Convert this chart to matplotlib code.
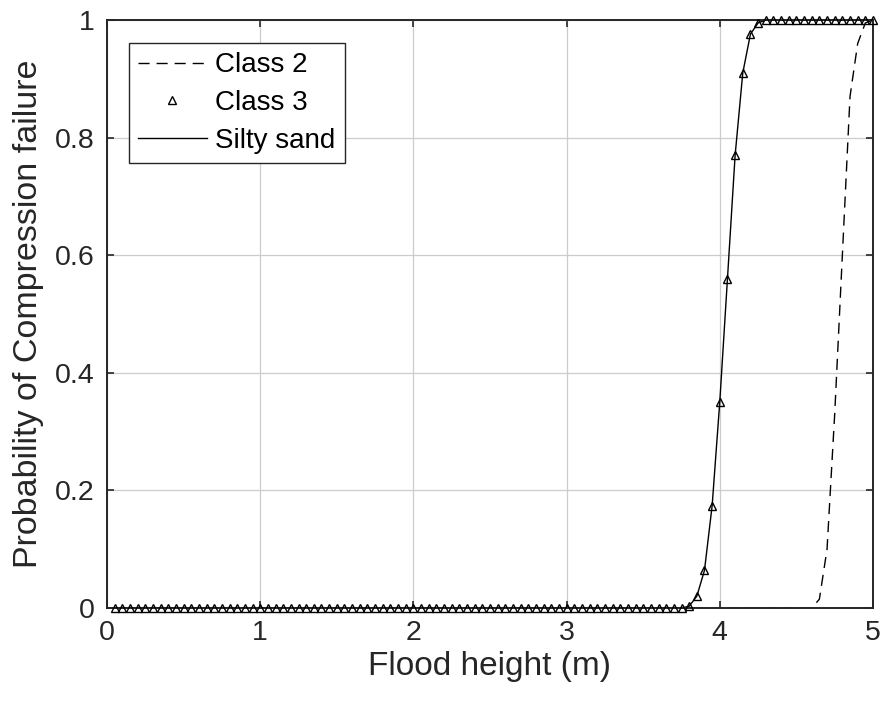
import numpy as np
import matplotlib.pyplot as plt
from matplotlib.ticker import FuncFormatter

# flood height grid (m), 0.05 m steps
flood_height = np.round(np.arange(1, 101) * 0.05, 2)

# Class 2: zero until ~4.6 m, then steep rise
class2_x = [0.05, 4.60, 4.65, 4.70, 4.75, 4.80, 4.85, 4.90, 4.95, 5.00]
class2_p = [0.0, 0.0, 0.015, 0.10, 0.33, 0.60, 0.87, 0.96, 0.995, 1.0]

# Class 3 / silty sand: rise between 3.75 and 4.3 m
ramp_x = [0.05, 3.75, 3.80, 3.85, 3.90, 3.95, 4.00, 4.05, 4.10, 4.15, 4.20, 4.25, 4.30, 5.00]
ramp_p = [0.0, 0.0, 0.003, 0.020, 0.064, 0.174, 0.351, 0.560, 0.770, 0.910, 0.976, 0.995, 1.0, 1.0]

class3_p = np.interp(flood_height, ramp_x, ramp_p)
silty_p = np.interp(flood_height, ramp_x, ramp_p)
class2_p_grid = np.interp(flood_height, class2_x, class2_p)

ink = '#262626'
plt.rcParams['font.family'] = ['Liberation Sans', 'DejaVu Sans']

fig = plt.figure(figsize=(8.84, 7.07), dpi=100)
ax = fig.add_axes([107/884, 1-608/707, (873-107)/884, (608-20)/707])

ax.plot(flood_height, class2_p_grid, '--', color='black', lw=1.0, dashes=(8, 5), label='Class 2')
ax.plot(flood_height, class3_p, linestyle='none', marker='^', ms=5.5, mfc='none', mec='black',
        mew=1.0, color='black', label='Class 3', clip_on=False, zorder=4)
ax.plot(flood_height, silty_p, '-', color='black', lw=1.0, label='Silty sand')

ax.set_xlim(0, 5)
ax.set_ylim(0, 1)
ax.set_xticks([0, 1, 2, 3, 4, 5])
ax.set_yticks([0, 0.2, 0.4, 0.6, 0.8, 1.0])
ax.yaxis.set_major_formatter(FuncFormatter(lambda v, p: '%g' % v))
ax.grid(True, color='#cccccc', lw=0.9)
ax.set_axisbelow(True)
ax.tick_params(direction='in', length=5, width=1.2, top=True, right=True,
               labelsize=20.5, colors=ink, pad=9)
for s in ax.spines.values():
    s.set_color(ink)
    s.set_linewidth(1.4)

ax.set_xlabel('Flood height (m)', fontsize=24, color=ink, labelpad=3)
ax.set_ylabel('Probability of Compression failure', fontsize=24.5, color=ink, labelpad=8)

leg = ax.legend(loc='upper left', bbox_to_anchor=(129/884, 1-43/707), bbox_transform=fig.transFigure,
                borderaxespad=0, fontsize=20, handlelength=2.45, handletextpad=0.3,
                labelspacing=0.42, borderpad=0.34, fancybox=False, framealpha=1,
                edgecolor=ink)
leg.get_frame().set_linewidth(1.0)
for t in leg.get_texts():
    t.set_color('black')

fig.savefig('out.png', dpi=100)
